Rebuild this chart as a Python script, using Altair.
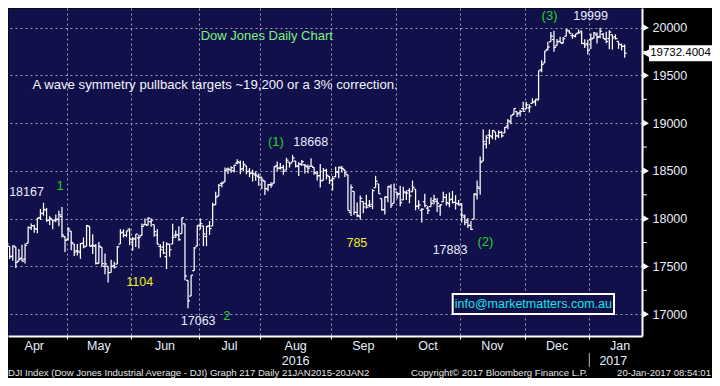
import altair as alt
import pandas as pd

# ---------------- data ----------------
days_apr = [1, 4, 5, 6, 7, 8, 11, 12, 13, 14, 15, 18, 19, 20, 21, 22, 25, 26, 27, 28, 29]
open_apr = [17661, 17799, 17710, 17608, 17705, 17555, 17586, 17576, 17742, 17905, 17926, 17890, 18012, 18059, 18092, 17985, 17990, 17987, 17996, 18023, 17813]
high_apr = [17804, 17811, 17710, 17719, 17705, 17684, 17728, 17741, 17918, 17951, 17938, 18010, 18103, 18167, 18113, 18026, 17990, 18043, 18084, 18123, 17813]
low_apr = [17569, 17718, 17579, 17559, 17484, 17555, 17554, 17531, 17742, 17882, 17853, 17848, 17986, 18032, 17964, 17935, 17889, 17962, 17920, 17802, 17651]
close_apr = [17792, 17737, 17603, 17716, 17542, 17577, 17556, 17721, 17908, 17926, 17897, 18004, 18053, 18096, 17982, 18003, 17977, 17991, 18041, 17830, 17773]

days_may = [2, 3, 4, 5, 6, 9, 10, 11, 12, 13, 16, 17, 18, 19, 20, 23, 24, 25, 26, 27, 31]
open_may = [17783, 17870, 17736, 17664, 17650, 17743, 17712, 17919, 17720, 17711, 17531, 17701, 17501, 17501, 17437, 17507, 17525, 17735, 17859, 17826, 17891]
high_may = [17912, 17870, 17736, 17736, 17744, 17803, 17935, 17919, 17838, 17734, 17755, 17701, 17636, 17501, 17571, 17550, 17714, 17891, 17888, 17873, 17899]
low_may = [17773, 17670, 17609, 17615, 17580, 17690, 17712, 17711, 17630, 17521, 17531, 17498, 17418, 17331, 17437, 17480, 17525, 17735, 17803, 17809, 17724]
close_may = [17891, 17750, 17651, 17660, 17740, 17705, 17928, 17711, 17720, 17535, 17711, 17530, 17526, 17435, 17500, 17492, 17706, 17851, 17828, 17873, 17787]

days_jun = [1, 2, 3, 6, 7, 8, 9, 10, 13, 14, 15, 16, 17, 20, 21, 22, 23, 24, 27, 28, 29, 30]
open_jun = [17754, 17789, 17799, 17825, 17936, 17931, 17969, 17938, 17830, 17710, 17703, 17602, 17733, 17736, 17827, 17833, 17844, 17946, 17355, 17190, 17456, 17713]
high_jun = [17809, 17838, 17833, 17949, 18003, 18016, 18005, 17938, 17893, 17733, 17762, 17754, 17733, 17946, 17877, 17920, 18011, 17946, 17355, 17409, 17704, 17930]
low_jun = [17664, 17703, 17689, 17822, 17936, 17931, 17915, 17812, 17733, 17595, 17629, 17471, 17602, 17736, 17799, 17770, 17844, 17356, 17063, 17190, 17456, 17711]
close_jun = [17789, 17838, 17807, 17920, 17938, 18005, 17985, 17865, 17733, 17675, 17640, 17733, 17675, 17805, 17829, 17780, 18011, 17400, 17140, 17409, 17694, 17930]

days_jul = [1, 5, 6, 7, 8, 11, 12, 13, 14, 15, 18, 19, 20, 21, 22, 25, 26, 27, 28, 29]
open_jul = [17924, 17925, 17814, 17925, 17924, 18146, 18237, 18368, 18385, 18522, 18511, 18503, 18582, 18586, 18524, 18554, 18500, 18479, 18458, 18442]
high_jul = [18003, 17925, 17925, 17976, 18166, 18283, 18364, 18387, 18537, 18537, 18548, 18565, 18622, 18610, 18605, 18555, 18530, 18513, 18494, 18474]
low_jul = [17888, 17713, 17713, 17831, 17924, 18146, 18237, 18329, 18385, 18469, 18480, 18485, 18571, 18465, 18496, 18465, 18436, 18389, 18397, 18346]
close_jul = [17949, 17841, 17919, 17896, 18147, 18227, 18348, 18373, 18507, 18517, 18534, 18559, 18595, 18518, 18571, 18493, 18474, 18473, 18456, 18432]

days_aug = [1, 2, 3, 4, 5, 8, 9, 10, 11, 12, 15, 16, 17, 18, 19, 22, 23, 24, 25, 26, 29, 30, 31]
open_aug = [18434, 18394, 18313, 18357, 18372, 18555, 18530, 18537, 18510, 18592, 18593, 18604, 18547, 18568, 18565, 18543, 18549, 18537, 18475, 18451, 18401, 18507, 18442]
high_aug = [18434, 18398, 18362, 18381, 18547, 18600, 18583, 18562, 18638, 18592, 18668, 18604, 18590, 18615, 18574, 18567, 18632, 18540, 18497, 18574, 18531, 18522, 18445]
low_aug = [18310, 18247, 18288, 18324, 18372, 18496, 18513, 18460, 18510, 18536, 18593, 18535, 18448, 18553, 18472, 18477, 18548, 18461, 18399, 18326, 18400, 18410, 18363]
close_aug = [18404, 18314, 18355, 18353, 18544, 18529, 18533, 18496, 18613, 18576, 18636, 18553, 18574, 18597, 18553, 18530, 18548, 18482, 18449, 18395, 18503, 18454, 18401]

days_sep = [1, 2, 6, 7, 8, 9, 12, 13, 14, 15, 16, 19, 20, 21, 22, 23, 26, 27, 28, 29, 30]
open_sep = [18396, 18440, 18485, 18530, 18513, 18460, 18066, 18287, 18066, 18026, 18180, 18159, 18142, 18150, 18324, 18364, 18211, 18095, 18224, 18331, 18161]
high_sep = [18444, 18545, 18545, 18552, 18513, 18460, 18358, 18287, 18169, 18242, 18180, 18250, 18196, 18310, 18449, 18364, 18211, 18232, 18339, 18362, 18368]
low_sep = [18295, 18433, 18423, 18484, 18437, 18085, 18029, 18042, 18016, 17992, 18058, 18105, 18120, 18100, 18324, 18261, 18084, 18044, 18171, 18111, 18161]
close_sep = [18419, 18492, 18539, 18526, 18480, 18085, 18326, 18067, 18034, 18213, 18124, 18120, 18130, 18294, 18392, 18261, 18094, 18228, 18339, 18143, 18308]

days_oct = [3, 4, 5, 6, 7, 10, 11, 12, 13, 14, 17, 18, 19, 20, 21, 24, 25, 26, 27, 28, 31]
open_oct = [18279, 18263, 18197, 18271, 18295, 18282, 18309, 18132, 18088, 18177, 18111, 18126, 18187, 18182, 18129, 18178, 18224, 18157, 18204, 18171, 18155]
high_oct = [18279, 18345, 18335, 18295, 18320, 18400, 18312, 18193, 18110, 18261, 18134, 18222, 18252, 18216, 18154, 18283, 18258, 18275, 18290, 18247, 18196]
low_oct = [18211, 18130, 18197, 18195, 18162, 18282, 18088, 18100, 17960, 18121, 18050, 18126, 18150, 18069, 18030, 18178, 18139, 18120, 18160, 18096, 18142]
close_oct = [18254, 18168, 18281, 18269, 18240, 18329, 18129, 18144, 18099, 18138, 18087, 18162, 18203, 18162, 18145, 18223, 18169, 18199, 18170, 18161, 18142]

days_nov = [1, 2, 3, 4, 7, 8, 9, 10, 11, 14, 15, 16, 17, 18, 21, 22, 23, 25, 28, 29, 30]
open_nov = [18158, 18017, 17978, 17928, 17994, 18251, 18317, 18603, 18781, 18876, 18858, 18909, 18866, 18905, 18898, 18971, 19015, 19092, 19121, 19108, 19153]
high_nov = [18158, 18044, 18007, 17977, 18263, 18400, 18650, 18934, 18874, 18934, 18925, 18909, 18925, 18915, 18961, 19043, 19083, 19153, 19121, 19141, 19225]
low_nov = [17959, 17931, 17904, 17883, 17994, 18200, 18250, 18603, 18735, 18779, 18831, 18825, 18844, 18849, 18898, 18937, 18988, 19092, 19066, 19070, 19121]
close_nov = [18037, 17960, 17931, 17888, 18260, 18333, 18590, 18808, 18848, 18869, 18924, 18868, 18904, 18868, 18956, 19024, 19083, 19153, 19098, 19122, 19124]

days_dec = [1, 2, 5, 6, 7, 8, 9, 12, 13, 14, 15, 16, 19, 20, 21, 22, 23, 27, 28, 29, 30]
open_dec = [19149, 19162, 19208, 19230, 19242, 19561, 19631, 19771, 19852, 19876, 19811, 19856, 19836, 19910, 19965, 19918, 19908, 19943, 19964, 19835, 19833]
high_dec = [19225, 19198, 19262, 19252, 19549, 19658, 19757, 19852, 19954, 19967, 19881, 19905, 19902, 19987, 19974, 19940, 19934, 19981, 19964, 19878, 19874]
low_dec = [19149, 19112, 19208, 19181, 19242, 19534, 19631, 19760, 19852, 19748, 19811, 19841, 19836, 19910, 19939, 19883, 19899, 19939, 19833, 19787, 19719]
close_dec = [19192, 19171, 19217, 19252, 19549, 19615, 19757, 19797, 19911, 19793, 19853, 19843, 19884, 19975, 19942, 19918, 19934, 19946, 19834, 19819, 19763]

days_jan = [3, 4, 5, 6, 9, 10, 11, 12, 13, 17, 18, 19]
open_jan = [19873, 19890, 19924, 19906, 19931, 19876, 19887, 19926, 19906, 19856, 19821, 19806]
high_jan = [19938, 19956, 19949, 19999, 19943, 19957, 19974, 19929, 19930, 19856, 19835, 19825]
low_jan = [19776, 19890, 19834, 19890, 19887, 19836, 19775, 19771, 19876, 19778, 19761, 19685]
close_jan = [19882, 19943, 19899, 19964, 19887, 19855, 19954, 19891, 19886, 19826, 19804, 19732]

month_keys = ["2016-04", "2016-05", "2016-06", "2016-07", "2016-08", "2016-09", "2016-10", "2016-11", "2016-12", "2017-01"]
month_names = ["Apr", "May", "Jun", "Jul", "Aug", "Sep", "Oct", "Nov", "Dec", "Jan"]
month_full_sessions = [21, 21, 22, 20, 23, 21, 21, 21, 21, 20]
year_names = ["2016", "2017"]

last_price = 19732.4004
y_major = [17000, 17500, 18000, 18500, 19000, 19500, 20000]
y_minor = [17250, 17750, 18250, 18750, 19250, 19750]

note_text = ["Dow Jones Daily Chart",
             "A wave symmetry pullback targets ~19,200 or a 3% correction.",
             "18167", "1", "1104", "17063", "2", "(1)", "18668", "785",
             "17883", "(2)", "(3)", "19999", "info@marketmatters.com.au"]
note_kind = ["title", "sentence", "white", "green", "yellow", "white", "green", "green",
             "white", "yellow", "white", "green", "green", "white", "cyan"]
footer_left = "DJI Index (Dow Jones Industrial Average - DJI) Graph 217  Daily 21JAN2015-20JAN2"
footer_mid = "Copyright\u00a9 2017 Bloomberg Finance L.P."
footer_right = "20-Jan-2017 08:54:01"

# ---------------- assemble ----------------
month_series = {
    "2016-04": (days_apr, open_apr, high_apr, low_apr, close_apr),
    "2016-05": (days_may, open_may, high_may, low_may, close_may),
    "2016-06": (days_jun, open_jun, high_jun, low_jun, close_jun),
    "2016-07": (days_jul, open_jul, high_jul, low_jul, close_jul),
    "2016-08": (days_aug, open_aug, high_aug, low_aug, close_aug),
    "2016-09": (days_sep, open_sep, high_sep, low_sep, close_sep),
    "2016-10": (days_oct, open_oct, high_oct, low_oct, close_oct),
    "2016-11": (days_nov, open_nov, high_nov, low_nov, close_nov),
    "2016-12": (days_dec, open_dec, high_dec, low_dec, close_dec),
    "2017-01": (days_jan, open_jan, high_jan, low_jan, close_jan),
}
rows = []
month_start = []
k = 0
for mk in month_keys:
    dd, oo, hh, ll, cc = month_series[mk]
    month_start.append(k)
    for j, d in enumerate(dd):
        rows.append({"i": k, "date": f"{mk}-{d:02d}", "o": oo[j], "h": hh[j], "l": ll[j], "c": cc[j]})
        k += 1
bars = pd.DataFrame(rows)

# ---------------- layout / style ----------------
NAVY = "#11104b"
GRID = "#a3a3b0"
WHITE = "#ffffff"
TXT = "#e9eeff"
SANS = "Liberation Sans, Arial, Helvetica, sans-serif"
KIND_COLOR = {"title": "#7ff07f", "sentence": "#f2f5ff", "white": TXT, "green": "#22d422",
              "yellow": "#eeee22", "cyan": "#18e4e4"}
KIND_SIZE = {"title": 13, "sentence": 13.2, "white": 12.5, "green": 13, "yellow": 12.5, "cyan": 12.5}

PW, PH = 634, 328
X0, X1 = 1.451, 207.63
boundaries = [s - 0.5 for s in month_start]
XS = alt.Scale(domain=[X0, X1], nice=False, zero=False)
YS = alt.Scale(domain=[16772, 20206], nice=False, zero=False)
XA = alt.Axis(values=[b for b in boundaries if X0 <= b <= X1], labels=False, ticks=True,
              tickColor=WHITE, tickSize=3, tickWidth=1, domainColor=WHITE, domainWidth=2,
              grid=True, gridColor=GRID, gridDash=[2, 3], gridWidth=1, title=None)
YA = alt.Axis(orient="right", values=y_major, format="d", labelColor=TXT, labelFont=SANS,
              labelFontSize=12.5, labelPadding=10, ticks=False, domainColor=WHITE, domainWidth=2,
              grid=True, gridColor=GRID, gridDash=[2, 3], gridWidth=1, title=None)


def X(f):
    return alt.X(f"{f}:Q", scale=XS, axis=XA)


def Y(f):
    return alt.Y(f"{f}:Q", scale=YS, axis=YA)


# annotation anchor positions (trading-day index, index level)
note_pos_i = [85.6, 68.8, 7.47, 18.4, 44.3, 63.3, 72.6, 88.6, 99.9, 114.9, 145.2, 156.7, 177.55, 190.9, 172.3]
note_pos_v = [19913, 19400, 18283, 18342, 17334, 16932, 16984, 18806, 18800, 17742, 17672, 17759, 20120, 20125, 17107]
notes = pd.DataFrame({
    "t": note_text, "i": note_pos_i, "v": note_pos_v,
    "col": [KIND_COLOR[x] for x in note_kind], "fs": [KIND_SIZE[x] for x in note_kind],
})
box = pd.DataFrame({"i": [146.07], "i2": [198.53], "v": [17211], "v2": [17002]})

base = alt.Chart(bars)
BW = 1.25
hl = base.mark_rule(color=WHITE, strokeWidth=BW, clip=True).encode(x=X("i"), y=Y("l"), y2="h:Q")
op = base.mark_rule(color=WHITE, strokeWidth=BW, clip=True, xOffset=-2).encode(x=X("i"), x2="i:Q", y=Y("o"))
cl = base.mark_rule(color=WHITE, strokeWidth=BW, clip=True, x2Offset=2).encode(x=X("i"), x2="i:Q", y=Y("c"))

box_layer = alt.Chart(box).mark_rect(fill=NAVY, stroke=WHITE, strokeWidth=2).encode(
    x=X("i"), x2="i2:Q", y=Y("v"), y2="v2:Q")
note_layer = alt.Chart(notes).mark_text(font=SANS, baseline="middle", align="center").encode(
    x=X("i"), y=Y("v"), text="t:N", color=alt.Color("col:N", scale=None), size=alt.Size("fs:Q", scale=None))

tri = alt.Chart(pd.DataFrame({"v": y_major})).mark_point(
    shape="triangle-right", filled=True, color=WHITE, opacity=1, size=45).encode(x=alt.value(PW + 4), y=Y("v"))
mt = alt.Chart(pd.DataFrame({"v": y_minor})).mark_rule(color=WHITE, strokeWidth=1).encode(
    x=alt.value(PW), x2=alt.value(PW + 5), y=Y("v"))

lp = pd.DataFrame({"v": [last_price], "t": [f"{last_price:.4f}"]})
lp_box = alt.Chart(lp).mark_rect(color=WHITE, yOffset=-8, y2Offset=8).encode(
    x=alt.value(PW + 7), x2=alt.value(PW + 70), y=Y("v"), y2="v:Q")
lp_arrow = alt.Chart(lp).mark_point(shape="triangle-left", filled=True, color=WHITE, opacity=1, size=70).encode(
    x=alt.value(PW + 4), y=Y("v"))
lp_text = alt.Chart(lp).mark_text(color="#000000", font=SANS, fontSize=11.5, align="center", baseline="middle").encode(
    x=alt.value(PW + 38.5), y=Y("v"), text="t:N")

mdf = pd.DataFrame({"name": month_names,
                    "i": [s + (n - 1) / 2 for s, n in zip(month_start, month_full_sessions)]})
months_layer = alt.Chart(mdf).mark_text(font=SANS, fontSize=12.5, color=TXT, baseline="middle").encode(
    x=X("i"), y=alt.value(PH + 10), text="name:N")
ydf = pd.DataFrame({"t": year_names, "i": [mdf["i"][4], 198.3]})
years_layer = alt.Chart(ydf).mark_text(font=SANS, fontSize=12.5, color=TXT, baseline="middle").encode(
    x=X("i"), y=alt.value(PH + 25), text="t:N")
sep_layer = alt.Chart(pd.DataFrame({"i": [boundaries[-1]]})).mark_rule(color="#bdbdbd", strokeWidth=1).encode(
    x=X("i"), y=alt.value(PH + 17), y2=alt.value(PH + 31))

FOOT = dict(font=SANS, fontSize=9.6, color="#e4e4e4", baseline="middle")
f1 = alt.Chart(pd.DataFrame({"t": [footer_left]})).mark_text(align="left", **FOOT).encode(
    x=alt.value(0), y=alt.value(PH + 37), text="t:N")
f2 = alt.Chart(pd.DataFrame({"t": [footer_mid]})).mark_text(align="left", **FOOT).encode(
    x=alt.value(403), y=alt.value(PH + 37), text="t:N")
f3 = alt.Chart(pd.DataFrame({"t": [footer_right]})).mark_text(align="right", **FOOT).encode(
    x=alt.value(703), y=alt.value(PH + 37), text="t:N")

chart = alt.layer(
    hl, op, cl, box_layer, note_layer, tri, mt, lp_box, lp_arrow, lp_text,
    months_layer, years_layer, sep_layer, f1, f2, f3,
).properties(
    width=PW, height=PH, background="#000000",
    padding={"left": 0, "top": 0, "right": 70, "bottom": 42},
    autosize=alt.AutoSizeParams(type="none"),
).configure_view(fill=NAVY, strokeOpacity=0)

chart.save("out.html", embed_options={"renderer": "svg", "actions": False})
